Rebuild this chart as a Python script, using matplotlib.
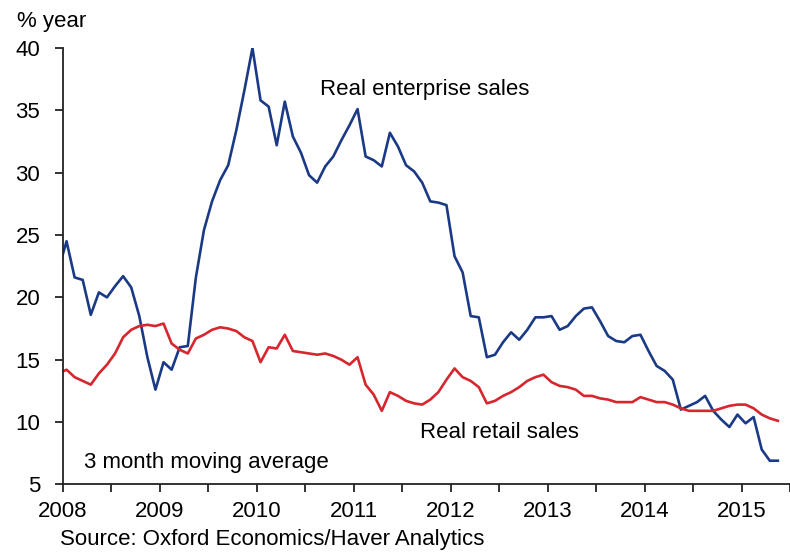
import numpy as np
import pandas as pd
import matplotlib
matplotlib.use("Agg")
import matplotlib.pyplot as plt
from matplotlib.ticker import MultipleLocator

plt.rcParams['font.family'] = ['Liberation Sans', 'DejaVu Sans']

# Monthly data, Dec 2007 - May 2015 (3 month moving average, % year)
months = pd.date_range("2007-12-01", "2015-05-01", freq="MS")

enterprise = [22.2, 24.5, 21.6, 21.4, 18.6, 20.4, 20.0, 20.9, 21.7, 20.8,
              18.5, 15.2, 12.6, 14.8, 14.2, 16.0, 16.1, 21.6, 25.4, 27.7,
              29.4, 30.6, 33.4, 36.6, 40.0, 35.8, 35.3, 32.2, 35.7, 32.9,
              31.6, 29.8, 29.2, 30.5, 31.3, 32.6, 33.8, 35.1, 31.3, 31.0,
              30.5, 33.2, 32.1, 30.6, 30.1, 29.2, 27.7, 27.6, 27.4, 23.3,
              22.0, 18.5, 18.4, 15.2, 15.4, 16.4, 17.2, 16.6, 17.4, 18.4,
              18.4, 18.5, 17.4, 17.7, 18.5, 19.1, 19.2, 18.1, 16.9, 16.5,
              16.4, 16.9, 17.0, 15.7, 14.5, 14.1, 13.4, 11.0, 11.3, 11.6,
              12.1, 10.9, 10.2, 9.6, 10.6, 9.9, 10.4, 7.8, 6.9, 6.9]

retail = [13.9, 14.2, 13.6, 13.3, 13.0, 13.9, 14.6, 15.5, 16.8, 17.4,
          17.7, 17.8, 17.7, 17.9, 16.3, 15.8, 15.5, 16.7, 17.0, 17.4,
          17.6, 17.5, 17.3, 16.8, 16.5, 14.8, 16.0, 15.9, 17.0, 15.7,
          15.6, 15.5, 15.4, 15.5, 15.3, 15.0, 14.6, 15.2, 13.0, 12.2,
          10.9, 12.4, 12.1, 11.7, 11.5, 11.4, 11.8, 12.4, 13.4, 14.3,
          13.6, 13.3, 12.8, 11.5, 11.7, 12.1, 12.4, 12.8, 13.3, 13.6,
          13.8, 13.2, 12.9, 12.8, 12.6, 12.1, 12.1, 11.9, 11.8, 11.6,
          11.6, 11.6, 12.0, 11.8, 11.6, 11.6, 11.4, 11.1, 10.9, 10.9,
          10.9, 10.9, 11.1, 11.3, 11.4, 11.4, 11.1, 10.6, 10.3, 10.1]

year_ticks = [2008, 2009, 2010, 2011, 2012, 2013, 2014, 2015]
y_ticks = [5, 10, 15, 20, 25, 30, 35, 40]

# mid-month positions as decimal years
x = np.asarray(months.year + (months.month - 0.5) / 12.0, dtype=float)

fig = plt.figure(figsize=(7.9, 5.52), dpi=100)
ax = fig.add_axes([62.5 / 790, (552 - 484.4) / 552, 1 - 62.5 / 790, (484.4 - 48) / 552])

ax.plot(x, enterprise, color='#1b3a85', lw=1.9, solid_joinstyle='round')
ax.plot(x, retail, color='#d6262e', lw=1.9, solid_joinstyle='round')

ax.set_xlim(2008, 2015.5)
ax.set_ylim(5, 40)
ax.set_xticks(year_ticks)
ax.set_xticklabels([str(y) for y in year_ticks])
ax.xaxis.set_minor_locator(MultipleLocator(0.5))
ax.set_yticks(y_ticks)

for s in ['top', 'right']:
    ax.spines[s].set_visible(False)
for s in ['left', 'bottom']:
    ax.spines[s].set_linewidth(1.3)
    ax.spines[s].set_color('#222222')

ax.tick_params(axis='x', which='both', direction='out', length=6, width=1.3,
               color='#222222', labelsize=16, pad=6)
ax.tick_params(axis='y', which='major', direction='out', length=6, width=1.3,
               color='#222222', labelsize=16, pad=10)

ax.text(2010.655, 36.2, 'Real enterprise sales', fontsize=16, ha='left', va='baseline')
ax.text(2011.69, 8.7, 'Real retail sales', fontsize=16, ha='left', va='baseline')
ax.text(2008.22, 6.3, '3 month moving average', fontsize=16, ha='left', va='baseline')

fig.text(17 / 790, (552 - 27) / 552, '% year', fontsize=16, ha='left', va='baseline')
fig.text(60 / 790, (552 - 545) / 552, 'Source: Oxford Economics/Haver Analytics',
         fontsize=16, ha='left', va='baseline')

fig.savefig('out.png', dpi=100)
